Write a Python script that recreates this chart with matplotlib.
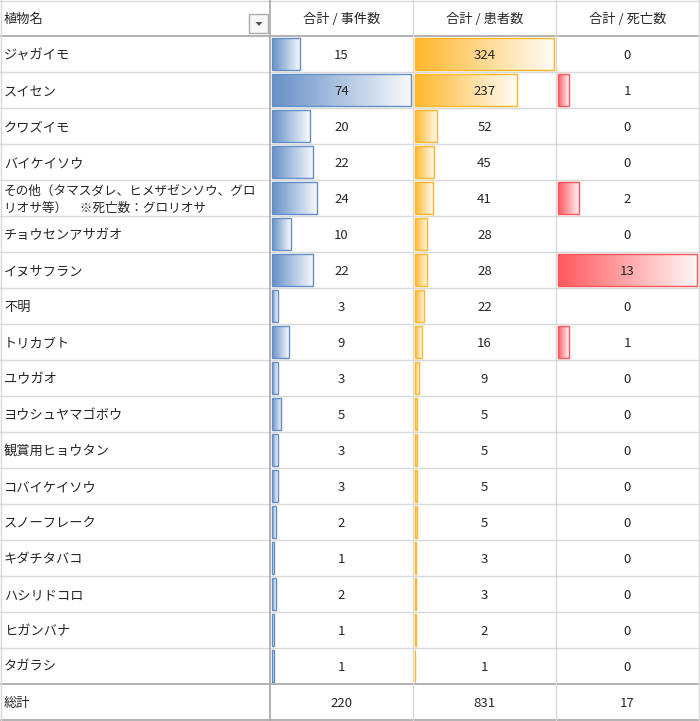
import numpy as np
import matplotlib
matplotlib.use("Agg")
import matplotlib.pyplot as plt
from matplotlib.colors import LinearSegmentedColormap
from matplotlib.patches import Rectangle, Polygon

plt.rcParams['font.family'] = ['Noto Sans CJK JP', 'DejaVu Sans']

# ---- data ----
plants = ["ジャガイモ", "スイセン", "クワズイモ", "バイケイソウ",
          "その他（タマスダレ、ヒメザゼンソウ、グロ\nリオサ等）　※死亡数：グロリオサ",
          "チョウセンアサガオ", "イヌサフラン", "不明", "トリカブト", "ユウガオ",
          "ヨウシュヤマゴボウ", "観賞用ヒョウタン", "コバイケイソウ", "スノーフレーク",
          "キダチタバコ", "ハシリドコロ", "ヒガンバナ", "タガラシ"]
events = [15, 74, 20, 22, 24, 10, 22, 3, 9, 3, 5, 3, 3, 2, 1, 2, 1, 1]
patients = [324, 237, 52, 45, 41, 28, 28, 22, 16, 9, 5, 5, 5, 5, 3, 3, 2, 1]
deaths = [0, 1, 0, 0, 2, 0, 13, 0, 1, 0, 0, 0, 0, 0, 0, 0, 0, 0]
headers = ["植物名", "合計 / 事件数", "合計 / 患者数", "合計 / 死亡数"]
total_label = "総計"
series = [events, patients, deaths]
bar_colors = ["#638EC6", "#FFB628", "#FF555A"]

# ---- layout (pixels) ----
W, H = 700, 721
fig = plt.figure(figsize=(W / 100, H / 100), dpi=100)
ax = fig.add_axes([0, 0, 1, 1])
ax.set_xlim(0, W)
ax.set_ylim(H, 0)
ax.axis('off')

col_x = [0, 270, 413, 556, 699]
header_h = 36
row_h = 36
n = len(plants)
rows_top = header_h
rows_bot = header_h + n * row_h
total_bot = rows_bot + row_h

light = "#D9D9D9"
dark = "#A6A6A6"
txt = "#262626"
fs = 9.5
fs_wrap = 9.1
dy = 1.5  # baseline correction

# horizontal lines
ax.plot([0, 699], [0.5, 0.5], color=light, lw=1)
for i in range(1, n):
    y = rows_top + i * row_h
    ax.plot([0, 699], [y, y], color=light, lw=1)
for y in [rows_top, rows_bot, total_bot]:
    ax.plot([0, 699], [y, y], color=dark, lw=1.2)
# vertical lines
ax.plot([0.5, 0.5], [0, total_bot], color=light, lw=1)
for x in col_x[2:]:
    ax.plot([x, x], [0, total_bot], color=light, lw=1)
ax.plot([col_x[1], col_x[1]], [0, total_bot], color=dark, lw=1.2)

# headers
ax.text(4, header_h / 2 + dy, headers[0], ha='left', va='center', fontsize=fs, color=txt)
for j in range(3):
    cx = (col_x[j + 1] + col_x[j + 2]) / 2
    ax.text(cx, header_h / 2 + dy, headers[j + 1], ha='center', va='center', fontsize=fs, color=txt)

# dropdown button
ax.add_patch(Rectangle((249, 14), 19, 19, facecolor="#F7F7F7", edgecolor="#ABABAB", lw=1))
ax.add_patch(Polygon([[255.5, 22], [262.5, 22], [259, 26]], closed=True,
                     facecolor="#555555", edgecolor='none'))

# row labels
for i, name in enumerate(plants):
    cy = rows_top + i * row_h + row_h / 2 + dy
    if "\n" in name:
        l1, l2 = name.split("\n")
        ax.text(4, cy - 8.5, l1, ha='left', va='center', fontsize=fs_wrap, color=txt)
        ax.text(4, cy + 8.5, l2, ha='left', va='center', fontsize=fs_wrap, color=txt)
    else:
        ax.text(4, cy, name, ha='left', va='center', fontsize=fs, color=txt)

# totals
cy = rows_bot + row_h / 2 + dy
ax.text(4, cy, total_label, ha='left', va='center', fontsize=fs, color=txt)
for j, s in enumerate(series):
    cx = (col_x[j + 1] + col_x[j + 2]) / 2
    ax.text(cx, cy, str(sum(s)), ha='center', va='center', fontsize=fs, color=txt)

# data bars: one axes per column
grad = np.linspace(0, 1, 256).reshape(1, -1)
bar_h = 0.875
for j, (s, c) in enumerate(zip(series, bar_colors)):
    x0 = col_x[j + 1] + 2
    x1 = col_x[j + 2] - 2
    bax = fig.add_axes([x0 / W, (H - rows_bot) / H, (x1 - x0) / W, (rows_bot - rows_top) / H])
    bax.patch.set_alpha(0)
    cmap = LinearSegmentedColormap.from_list("g", [c, "#FFFFFF"])
    vmax = max(s)
    idx = [i for i, v in enumerate(s) if v > 0]
    vals = [s[i] for i in idx]
    for i, v in zip(idx, vals):
        bax.imshow(grad, extent=(0, v, i + bar_h / 2, i - bar_h / 2), cmap=cmap,
                   aspect='auto', interpolation='bilinear', vmin=-0.02, vmax=1.05,
                   zorder=1)
    bax.barh(idx, vals, height=bar_h, left=0, facecolor='none', edgecolor=c,
             linewidth=1, zorder=2, clip_on=False)
    bax.set_xlim(0, vmax)
    bax.set_ylim(n - 0.5, -0.5)
    bax.axis('off')
    # values
    for i, v in enumerate(s):
        bax.text(0.5, i + dy / row_h, str(v), transform=bax.get_yaxis_transform(),
                 ha='center', va='center', fontsize=fs, color=txt, zorder=3)

fig.savefig("out.png", dpi=100)
